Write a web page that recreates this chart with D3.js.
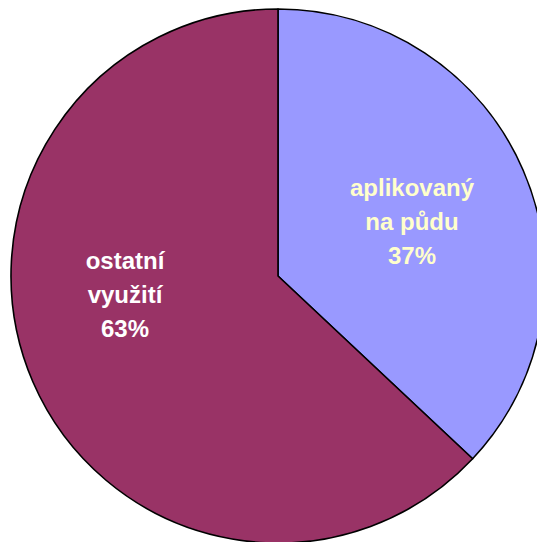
<!DOCTYPE html>
<html><head><meta charset="utf-8">
<script src="https://cdn.jsdelivr.net/npm/d3@7"></script>
<style>body{margin:0;background:#fff}svg{display:block}</style>
</head><body>
<svg id="c" width="537" height="542"></svg>
<script>
const categories = [["aplikovaný","na půdu"], ["ostatní","využití"]];
const values = [37, 63];
const colors = ["#9999FF", "#993366"];
const textColors = ["#FFFFCC", "#FFFFFF"];
// label anchor (dx, dy of first baseline relative to centre) — layout only
const labelOffsets = [[134, -80], [-153, -7]];

const svg = d3.select("#c");
const cx = 278, cy = 276, r = 267;
const g = svg.append("g").attr("transform", `translate(${cx},${cy})`);
const pie = d3.pie().sort(null).value(d => d)(values);
const arc = d3.arc().innerRadius(0).outerRadius(r);
g.selectAll("path").data(pie).join("path")
  .attr("d", arc).attr("fill", (d,i) => colors[i])
  .attr("stroke", "#000").attr("stroke-width", 1.6).attr("stroke-linejoin","round");

pie.forEach((d, i) => {
  const lines = categories[i].concat([values[i] + "%"]);
  const t = g.append("text")
    .attr("text-anchor", "middle")
    .attr("font-family", "Liberation Sans, Arial, sans-serif")
    .attr("font-weight", "bold").attr("font-size", 24)
    .attr("fill", textColors[i]);
  lines.forEach((s, k) => {
    t.append("tspan").attr("x", labelOffsets[i][0]).attr("y", labelOffsets[i][1] + k * 34).text(s);
  });
});
</script>
</body></html>
